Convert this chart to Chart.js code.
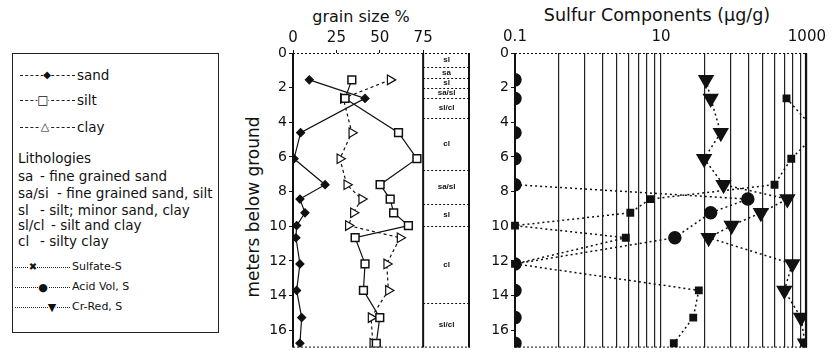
<!DOCTYPE html>
<html lang="en">
<head>
    <meta charset="UTF-8">
    <title>Grain size and sulfur components</title>
    <script src="https://cdn.jsdelivr.net/npm/chart.js"></script>
    <style>
        body { margin: 0; background: #fff; font-family: 'DejaVu Sans', 'Liberation Sans', sans-serif; color: #111; }
        #page { position: relative; width: 833px; height: 358px; overflow: hidden; }
        canvas { position: absolute; top: 0; }
        #grainChart { left: 200px; }
        #sulfurChart { left: 470px; }
        .title { position: absolute; font-size: 16px; white-space: nowrap; transform: translate(-50%, -50%); }
        #yTitle { font-size: 17px; transform: translate(-50%, -50%) rotate(-90deg); }
        #legend { position: absolute; left: 12px; top: 53px; width: 205px; height: 278px; border: 1px solid #222; }
        .row { position: absolute; white-space: nowrap; font-size: 13.5px; line-height: 16px; transform: translateY(-50%); }
        .small { font-size: 11px; }
        .seg { position: absolute; height: 0; border-top: 1px dashed #222; }
        .dot { border-top: 1.5px dotted #222; }
        .mk { position: absolute; transform: translate(-50%, -50%); line-height: 1; background: #fff; }
    </style>
</head>
<body>
<div id="page">
    <div id="legend">
        <div class="seg" style="left:7px; top:21px; width:55px;"></div>
        <div class="mk" style="left:34px; top:21px; font-size:10px;">◆</div>
        <div class="row" style="left:64px; top:21px;">sand</div>

        <div class="seg" style="left:7px; top:46px; width:55px;"></div>
        <div class="mk" style="left:30px; top:46px; font-size:12px;">□</div>
        <div class="row" style="left:64px; top:46px;">silt</div>

        <div class="seg" style="left:7px; top:73px; width:55px;"></div>
        <div class="mk" style="left:32px; top:72px; font-size:11px;">△</div>
        <div class="row" style="left:64px; top:73px;">clay</div>

        <div class="row" style="left:5px; top:104px;">Lithologies</div>
        <div class="row" style="left:5px; top:122px;">sa</div>
        <div class="row" style="left:27px; top:122px;">- fine grained sand</div>
        <div class="row" style="left:5px; top:139px;">sa/si</div>
        <div class="row" style="left:44px; top:139px;">- fine grained sand, silt</div>
        <div class="row" style="left:5px; top:156px;">sl</div>
        <div class="row" style="left:27px; top:156px;">- silt; minor sand, clay</div>
        <div class="row" style="left:5px; top:171px;">sl/cl</div>
        <div class="row" style="left:38px; top:171px;">- silt and clay</div>
        <div class="row" style="left:5px; top:187px;">cl</div>
        <div class="row" style="left:27px; top:187px;">- silty clay</div>

        <div class="seg dot" style="left:2px; top:213px; width:55px;"></div>
        <div class="mk" style="left:20px; top:213px; font-size:10px;">✖</div>
        <div class="row small" style="left:59px; top:213px;">Sulfate-S</div>

        <div class="seg dot" style="left:2px; top:233px; width:55px;"></div>
        <div class="mk" style="left:30px; top:233px; font-size:11px;">●</div>
        <div class="row small" style="left:59px; top:233px;">Acid Vol, S</div>

        <div class="seg dot" style="left:2px; top:253px; width:55px;"></div>
        <div class="mk" style="left:39px; top:253px; font-size:11px;">▼</div>
        <div class="row small" style="left:59px; top:253px;">Cr-Red, S</div>
    </div>

    <div class="title" style="left:361px; top:16px;">grain size %</div>
    <div class="title" style="left:657px; top:15px; font-size:17.5px;">Sulfur Components (µg/g)</div>
    <div class="title" id="yTitle" style="left:253px; top:207px;">meters below ground</div>

    <canvas id="grainChart" width="280" height="358"></canvas>
    <canvas id="sulfurChart" width="363" height="358"></canvas>
</div>

<script>
    // sample depths (m below ground), shared by all profiles
    const sampleDepth = [1.55, 2.62, 4.6, 6.1, 7.6, 8.43, 9.22, 9.96, 10.66, 12.17, 13.7, 15.27, 16.75];

    // grain size %
    const sandPct = [9.4, 41.5, 4.4, 0.6, 18.5, 4, 6.9, 2.1, 1.7, 4, 2.1, 5, 4];
    const siltPct = [33.9, 30, 60.8, 71.4, 50.2, 56, 58, 66.5, 35.8, 41.5, 40.6, 50, 48];
    const clayPct = [56, 29, 33.9, 27, 31, 39.6, 34.8, 31.9, 61.7, 54, 55, 45, 46];

    // sulfur components (ug/g), null = not plotted
    const sulfateS = [null, 525, 1400, 610, 360, 7.1, 3.8, 0.1, 3.3, 0.1, 33, 27.7, 15];
    const acidVolS = [0.1, 0.1, 0.1, 0.1, 0.1, 155, 48, null, 15.5, 0.1, 0.1, 0.1, 0.1];
    const crRedS = [41.5, 48, 66, 39, 72, 540, 234, 93, 45, 630, 490, 830, 940];

    // lithology column
    const lithoTops = [0, 0.83, 1.45, 2.0, 2.6, 3.73, 6.78, 8.7, 10.0, 14.4];
    const lithoCodes = ['sl', 'sa', 'sl', 'sa/sl', 'sl/cl', 'cl', 'sa/sl', 'sl', 'cl', 'sl/cl'];

    // ticks
    const depthTicks = [0, 2, 4, 6, 8, 10, 12, 14, 16];
    const grainTicks = [0, 25, 50, 75];
    const sulfurTicks = [0.1, 0.4, 0.9, 1.6, 2.5, 3.6, 4.9, 6.4, 8.1, 10, 40, 90, 160, 250, 360, 490, 640, 810, 1000];
    const sulfurLabels = [0.1, 10, 1000];

    const maxDepth = 17;
    const ink = '#111';
    const family = "'DejaVu Sans', 'Liberation Sans', sans-serif";
    const topFont = { family: family, size: 15 };
    const sideFont = { family: family, size: 14 };

    function profile(vals) {
        return vals.map((v, i) => ({ x: v, y: sampleDepth[i] })).filter(p => p.x !== null);
    }

    function depthAxis(width) {
        return {
            type: 'linear', reverse: true, min: 0, max: maxDepth,
            afterBuildTicks: s => { s.ticks = depthTicks.map(v => ({ value: v })); },
            afterFit: s => { s.width = width; },
            border: { display: false },
            grid: { drawOnChartArea: false, tickLength: 4, color: ink },
            ticks: { font: sideFont, color: ink, padding: 2 }
        };
    }

    function frameLines(ctx, a) {
        ctx.strokeStyle = ink;
        ctx.lineWidth = 1;
        ctx.setLineDash([2, 2]);
        ctx.beginPath();
        ctx.moveTo(a.left, a.top + 0.5); ctx.lineTo(a.right, a.top + 0.5);
        ctx.moveTo(a.left, a.bottom - 0.5); ctx.lineTo(a.right, a.bottom - 0.5);
        ctx.stroke();
        ctx.setLineDash([]);
        ctx.lineWidth = 2;
        ctx.beginPath();
        ctx.moveTo(a.left, a.top); ctx.lineTo(a.left, a.bottom);
        ctx.moveTo(a.right - 1, a.top); ctx.lineTo(a.right - 1, a.bottom);
        ctx.stroke();
    }

    const grainFrame = {
        id: 'grainFrame',
        beforeDatasetsDraw(chart) {
            const { ctx, chartArea: a, scales: { x, y } } = chart;
            const lx = x.getPixelForValue(75);
            ctx.save();
            frameLines(ctx, a);
            ctx.beginPath();
            ctx.moveTo(lx, a.top); ctx.lineTo(lx, a.bottom);
            ctx.stroke();
            ctx.lineWidth = 1;
            ctx.setLineDash([2, 2]);
            ctx.beginPath();
            lithoTops.slice(1).forEach(d => {
                const py = Math.round(y.getPixelForValue(d)) + 0.5;
                ctx.moveTo(lx, py); ctx.lineTo(a.right, py);
            });
            ctx.stroke();
            ctx.setLineDash([]);
            ctx.fillStyle = ink;
            ctx.font = "bold 8px 'Liberation Sans', Arial, sans-serif";
            ctx.textAlign = 'center';
            ctx.textBaseline = 'middle';
            lithoCodes.forEach((t, i) => {
                const bot = i + 1 < lithoTops.length ? lithoTops[i + 1] : maxDepth;
                ctx.fillText(t, (lx + a.right) / 2, y.getPixelForValue((lithoTops[i] + bot) / 2));
            });
            ctx.restore();
        }
    };

    const sulfurFrame = {
        id: 'sulfurFrame',
        beforeDatasetsDraw(chart) {
            const { ctx, chartArea: a } = chart;
            ctx.save();
            frameLines(ctx, a);
            ctx.restore();
        }
    };

    const noChrome = { legend: { display: false }, tooltip: { enabled: false }, title: { display: false } };

    new Chart(document.getElementById('grainChart'), {
        type: 'scatter',
        data: {
            datasets: [
                {
                    label: 'sand', data: profile(sandPct), showLine: true,
                    borderColor: ink, borderWidth: 1.2,
                    pointStyle: 'rectRot', pointRadius: 4, pointBackgroundColor: ink, pointBorderColor: ink
                },
                {
                    label: 'silt', data: profile(siltPct), showLine: true,
                    borderColor: ink, borderWidth: 1.2,
                    pointStyle: 'rect', pointRadius: 5.5, pointBackgroundColor: '#fff', pointBorderColor: ink, pointBorderWidth: 1.5
                },
                {
                    label: 'clay', data: profile(clayPct), showLine: true,
                    borderColor: ink, borderWidth: 1.2, borderDash: [3, 3],
                    pointStyle: 'triangle', pointRotation: 90, pointRadius: 5.5,
                    pointBackgroundColor: '#fff', pointBorderColor: ink, pointBorderWidth: 1.2
                }
            ]
        },
        options: {
            responsive: false,
            animation: false,
            layout: { padding: { left: 0, right: 10, top: 0, bottom: 5 } },
            plugins: noChrome,
            scales: {
                x: {
                    type: 'linear', position: 'top', min: 0, max: 102,
                    afterBuildTicks: s => { s.ticks = grainTicks.map(v => ({ value: v })); },
                    afterFit: s => { s.height = 53; },
                    border: { display: false },
                    grid: { drawOnChartArea: false, tickLength: 3, color: ink },
                    ticks: { font: topFont, color: ink, padding: 3, maxRotation: 0, autoSkip: false }
                },
                y: depthAxis(93)
            }
        },
        plugins: [grainFrame]
    });

    const dotted = { showLine: true, borderColor: ink, borderWidth: 1.5, borderDash: [2, 3], pointBackgroundColor: ink, pointBorderColor: ink };

    new Chart(document.getElementById('sulfurChart'), {
        type: 'scatter',
        data: {
            datasets: [
                Object.assign({
                    label: 'Sulfate-S', data: profile(sulfateS),
                    pointStyle: 'rect', pointRadius: 4.5,
                    clip: { left: 10, top: 10, bottom: 10, right: 0 }
                }, dotted),
                Object.assign({
                    label: 'Acid Vol, S', data: profile(acidVolS),
                    pointStyle: 'circle', pointRadius: 6
                }, dotted),
                Object.assign({
                    label: 'Cr-Red, S', data: profile(crRedS),
                    pointStyle: 'triangle', pointRotation: 180, pointRadius: 8
                }, dotted)
            ]
        },
        options: {
            responsive: false,
            animation: false,
            layout: { padding: { left: 0, right: 20, top: 0, bottom: 5 } },
            plugins: noChrome,
            scales: {
                x: {
                    type: 'logarithmic', position: 'top', min: 0.1, max: 1000,
                    afterBuildTicks: s => { s.ticks = sulfurTicks.map(v => ({ value: v })); },
                    afterFit: s => { s.height = 53; },
                    border: { display: false },
                    grid: { color: '#222', lineWidth: 1.2, drawTicks: false },
                    ticks: {
                        font: topFont, color: ink, padding: 7, maxRotation: 0, autoSkip: false,
                        callback: v => sulfurLabels.includes(v) ? String(v) : ''
                    }
                },
                y: depthAxis(45)
            }
        },
        plugins: [sulfurFrame]
    });
</script>
</body>
</html>
